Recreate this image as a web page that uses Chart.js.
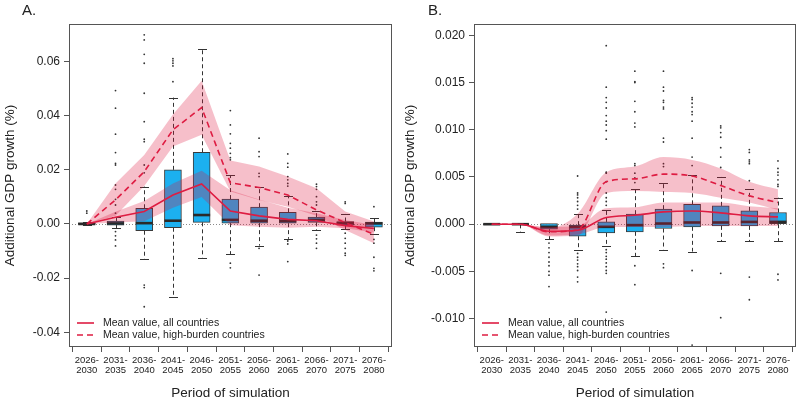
<!DOCTYPE html>
<html><head><meta charset="utf-8">
<script src="https://cdn.jsdelivr.net/npm/chart.js@4/dist/chart.umd.min.js"></script>
<style>
html,body{margin:0;padding:0;background:#fff;}
#wrap{position:relative;width:800px;height:402px;overflow:hidden;}
canvas{position:absolute;top:0;}
.lab{position:absolute;top:1px;font:15px "Liberation Sans",Arial,sans-serif;color:#222;}
</style></head><body>
<div id="wrap">
<canvas id="cA" width="400" height="402" style="left:0"></canvas>
<canvas id="cB" width="400" height="402" style="left:400px"></canvas>
<div class="lab" style="left:22px">A.</div>
<div class="lab" style="left:428px">B.</div>
</div>
<script>
// ---------- categories ----------
const periods = [["2026-","2030"],["2031-","2035"],["2036-","2040"],["2041-","2045"],["2046-","2050"],["2051-","2055"],["2056-","2060"],["2061-","2065"],["2066-","2070"],["2071-","2075"],["2076-","2080"]];
const legendLabels = ["Mean value, all countries","Mean value, high-burden countries"];
const xTitle = "Period of simulation";
const yTitle = "Additional GDP growth (%)";

// ---------- Panel A ----------
const A_q1  = [-0.0001,-0.0004,-0.0025,-0.0014,0.0006,0.0003,0.0003,0.0003,0.0006,-0.0004,-0.0012];
const A_med = [0.0000,0.0002,0.0003,0.0012,0.0033,0.0015,0.0012,0.0011,0.0015,0.0003,0.0002];
const A_q3  = [0.0004,0.0011,0.0058,0.0200,0.0265,0.0092,0.0062,0.0043,0.0025,0.0009,0.0007];
const A_wlo = [-0.0003,-0.0016,-0.0129,-0.0269,-0.0124,-0.0112,-0.0080,-0.0055,-0.0024,-0.0020,-0.0038];
const A_whi = [0.0006,0.0025,0.0138,0.0467,0.0645,0.0181,0.0136,0.0105,0.0049,0.0037,0.0021];
const A_out = [
  [0.0048,0.0040],
  [0.0493,0.0428,0.0332,0.0264,0.0224,0.0218,0.0144,0.0128,0.0091,0.0070,0.0040,-0.0028,-0.0044,-0.0059,-0.0081],
  [0.0699,0.0680,0.0627,0.0594,0.0483,0.0378,0.0313,0.0304,0.0218,0.0189,-0.0226,-0.0235,-0.0306],
  [0.0611,0.0603,0.0594,0.0584,0.0526],
  [],
  [0.0419,0.0366,0.0333,0.0298,0.0280,0.0261,0.0245,0.0237,-0.0145,-0.0162],
  [0.0317,0.0267,0.0249,0.0187,0.0175,-0.0090,-0.0189],
  [0.0259,0.0224,0.0210,0.0175,0.0163,0.0150,0.0140,-0.0063,-0.0074,-0.0139],
  [0.0147,0.0138,0.0128,0.0101,0.0082,0.0070,-0.0041,-0.0055,-0.0071,-0.0090],
  [0.0082,0.0076,-0.0034,-0.0053,-0.0071,-0.0090,-0.0108,-0.0116],
  [0.0064,-0.0057,-0.0071,-0.0123,-0.0164,-0.0173]
];
const A_meanAll  = [0, 0.0025, 0.0046, 0.0107, 0.0148, 0.0048, 0.0030, 0.0017, 0.0012, -0.0006, -0.0017];
const A_meanHigh = [0, 0.0089, 0.0193, 0.0348, 0.0430, 0.0152, 0.0135, 0.0107, 0.0052, 0.0005, -0.0038];
const A_allLo  = [0, 0.0005, 0.0010, 0.0060, 0.0100, -0.0005, -0.0010, -0.0014, -0.0010, -0.0016, -0.0032];
const A_allHi  = [0, 0.0045, 0.0085, 0.0150, 0.0197, 0.0125, 0.0090, 0.0060, 0.0040, 0.0015, -0.0004];
const A_highLo = [0, 0.0030, 0.0140, 0.0286, 0.0330, 0.0120, 0.0089, 0.0064, 0.0030, -0.0022, -0.0071];
const A_highHi = [0, 0.0150, 0.0255, 0.0405, 0.0529, 0.0235, 0.0212, 0.0175, 0.0132, 0.0046, 0.0009];
const A_yTicks = [-0.04,-0.02,0.00,0.02,0.04,0.06];

// ---------- Panel B ----------
const B_q1  = [-0.00002,-0.00002,-0.00053,-0.00127,-0.00092,-0.00081,-0.00046,-0.00028,-0.00018,-0.00018,0.00000];
const B_med = [0,0,-0.00028,-0.0003,-0.00028,-0.0001,0.00007,0.00018,0.00018,0.00024,0.00024];
const B_q3  = [0.00003,0.00004,0.00007,-0.0001,0.00024,0.00106,0.00159,0.0021,0.00194,0.00141,0.00124];
const B_wlo = [-0.00002,-0.0008,-0.0016,-0.0027,-0.0023,-0.0034,-0.0027,-0.0029,-0.0018,-0.0018,-0.0018];
const B_whi = [0.00003,0.00004,0.00007,0.0011,0.0015,0.0037,0.0044,0.0052,0.0050,0.0037,0.0028];
const B_out = [
  [],
  [],
  [-0.0020,-0.0025,-0.0030,-0.0035,-0.0040,-0.0044,-0.0050,-0.0054,-0.0066],
  [0.0051,0.0033,0.0031,0.0028,0.0024,0.0020,0.0016,-0.0031,-0.0035,-0.0038,-0.0042,-0.0045,-0.0049,-0.0056,-0.0061],
  [0.0189,0.0145,0.0134,0.0129,0.0123,0.0115,0.0109,0.0105,0.0099,0.0090,0.0055,0.0054,0.0045,0.0033,0.0028,0.0024,0.0020,-0.0027,-0.0030,-0.0034,-0.0037,-0.0041,-0.0045,-0.0049,-0.0052,-0.0093],
  [0.0162,0.0151,0.0150,0.0130,0.0119,0.0107,0.0103,0.0064,0.0062,0.0054,0.0049,0.0044,-0.0044,-0.0064],
  [0.0162,0.0145,0.0141,0.0131,0.0129,0.0124,0.0122,0.0091,0.0087,0.0064,0.0061,-0.0042,-0.0046],
  [0.0134,0.0132,0.0128,0.0124,0.0119,0.0116,0.0109,0.0091,0.0071,0.0062,-0.0049,-0.0128],
  [0.0104,0.0102,0.0097,0.0092,0.0081,0.0071,0.0060,-0.0052,-0.0099],
  [0.0079,0.0076,0.0068,0.0066,0.0064,0.0046,-0.0056,-0.0080],
  [0.0067,0.0059,0.0055,0.0052,0.0047,0.0042,0.0040,-0.0053,-0.0059]
];
const B_meanAll  = [0, 0, -0.00074, -0.00064, 0.00071, 0.00095, 0.0013, 0.0014, 0.0012, 0.00088, 0.00077];
const B_meanHigh = [0, 0, -0.0008, -0.0006, 0.0045, 0.0048, 0.0053, 0.0051, 0.0041, 0.0030, 0.0023];
const B_allLo  = [0, 0, -0.0012, -0.0011, -0.0003, -0.0003, -0.0003, -0.0002, -0.0002, -0.0002, -0.0002];
const B_allHi  = [0, 0, -0.0003, -0.0002, 0.0017, 0.0018, 0.0023, 0.0023, 0.0023, 0.0019, 0.0017];
const B_highLo = [0, 0, -0.0013, -0.0012, 0.0033, 0.0035, 0.0034, 0.0033, 0.0028, 0.0023, 0.0015];
const B_highHi = [0, 0, -0.0004, 0.0011, 0.0055, 0.0061, 0.0071, 0.0068, 0.0059, 0.0045, 0.0037];
const B_yTicks = [-0.010,-0.005,0.000,0.005,0.010,0.015,0.020];

// ---------- styling ----------
const FONT = "'Liberation Sans', Arial, sans-serif";
const CRIMSON = 'rgb(222,28,66)';
const BAND = 'rgba(220,20,60,0.27)';
const BOXFILL = '#1cb0f0';
const INK = '#222';

const pts = arr => arr.map((v,i)=>({x:i+1,y:v}));

const extras = {
  id:'boxExtras',
  beforeDatasetsDraw(chart){
    const {ctx, chartArea:a, scales:{y}} = chart;
    const y0 = Math.round(y.getPixelForValue(0)) + 0.5;
    ctx.save(); ctx.strokeStyle='#8a8a8a'; ctx.lineWidth=1; ctx.setLineDash([1,2]);
    ctx.beginPath(); ctx.moveTo(a.left,y0); ctx.lineTo(a.right,y0); ctx.stroke(); ctx.restore();
  },
  beforeDatasetDraw(chart,args){
    const ds = chart.data.datasets[args.index];
    if (!ds.stats) return;
    const s = ds.stats, {ctx, scales:{x,y}} = chart;
    ctx.save(); ctx.strokeStyle='#333'; ctx.lineWidth=1;
    for (let i=0;i<s.q1.length;i++){
      const px = Math.round(x.getPixelForValue(i+1))+0.5;
      const segs = [[s.q3[i], s.whi[i]],[s.q1[i], s.wlo[i]]];
      segs.forEach(([from,to])=>{
        if (Math.abs(to-from) < 1e-12) return;
        const y1 = y.getPixelForValue(from), y2 = y.getPixelForValue(to);
        ctx.setLineDash([4,3]);
        ctx.beginPath(); ctx.moveTo(px,y1); ctx.lineTo(px,y2); ctx.stroke();
        ctx.setLineDash([]);
        const yc = Math.round(y2)+0.5;
        ctx.beginPath(); ctx.moveTo(px-4.5,yc); ctx.lineTo(px+4.5,yc); ctx.stroke();
      });
    }
    ctx.restore();
  },
  afterDatasetDraw(chart,args){
    const ds = chart.data.datasets[args.index];
    if (!ds.stats) return;
    const s = ds.stats, {ctx, scales:{x,y}} = chart;
    ctx.save(); ctx.strokeStyle='#2a2a2a'; ctx.lineWidth=2.6;
    for (let i=0;i<s.med.length;i++){
      const px = x.getPixelForValue(i+1);
      const py = y.getPixelForValue(s.med[i]);
      ctx.beginPath(); ctx.moveTo(px-8.5,py); ctx.lineTo(px+8.5,py); ctx.stroke();
    }
    ctx.restore();
  },
  afterDraw(chart){
    const {ctx, chartArea:a} = chart;
    ctx.save();
    ctx.strokeStyle='#555'; ctx.lineWidth=1;
    ctx.strokeRect(a.left+0.5, a.top+0.5, a.right-a.left-1, a.bottom-a.top-1);
    // legend
    const rows = [a.bottom-24, a.bottom-12];
    ctx.lineWidth=1.6; ctx.strokeStyle=CRIMSON;
    ctx.beginPath(); ctx.moveTo(a.left+8,rows[0]); ctx.lineTo(a.left+25,rows[0]); ctx.stroke();
    ctx.setLineDash([6,4]);
    ctx.beginPath(); ctx.moveTo(a.left+8,rows[1]); ctx.lineTo(a.left+26,rows[1]); ctx.stroke();
    ctx.setLineDash([]);
    ctx.fillStyle=INK; ctx.font="10.5px "+FONT; ctx.textBaseline='middle'; ctx.textAlign='left';
    ctx.fillText(legendLabels[0], a.left+34, rows[0]);
    ctx.fillText(legendLabels[1], a.left+34, rows[1]);
    ctx.restore();
  }
};

function panel(id, P){
  const bandDs = (data, fill) => ({type:'line', data:pts(data), borderColor:'rgba(0,0,0,0)', borderWidth:1, pointRadius:0,
      fill: fill, backgroundColor: BAND, order:3, tension:P.tension, cubicInterpolationMode: P.mono?'monotone':'default'});
  const outPts = [];
  P.out.forEach((arr,i)=>arr.forEach(v=>outPts.push({x:i+1,y:v})));
  const datasets = [
    {type:'line', label:'meanAll', data:pts(P.meanAll), borderColor:CRIMSON, borderWidth:1.6, pointRadius:0, fill:false, order:1, tension:P.tension, cubicInterpolationMode: P.mono?'monotone':'default'},
    {type:'line', label:'meanHigh', data:pts(P.meanHigh), borderColor:CRIMSON, borderWidth:1.6, borderDash:[6,4], pointRadius:0, fill:false, order:1, tension:P.tension, cubicInterpolationMode: P.mono?'monotone':'default'},
    bandDs(P.allHi,'+1'), bandDs(P.allLo,false),
    bandDs(P.highHi,'+1'), bandDs(P.highLo,false),
    {type:'line', label:'outliers', data:outPts, showLine:false, pointRadius:0.9, pointBorderWidth:0, pointBackgroundColor:'#333', borderColor:'#333', order:6},
    {type:'bar', label:'boxes', data:P.q1.map((v,i)=>({x:i+1,y:[v,P.q3[i]]})), backgroundColor:BOXFILL, borderColor:'#3a3a3a', borderWidth:1, borderSkipped:false, barThickness:17, order:8,
      stats:{q1:P.q1,q3:P.q3,med:P.med,wlo:P.wlo,whi:P.whi}}
  ];
  return new Chart(document.getElementById(id), {
    type:'bar',
    data:{datasets},
    plugins:[extras],
    options:{
      responsive:false, animation:false, devicePixelRatio:1,
      layout:{padding:{left:0,right:P.padR,top:24,bottom:0}},
      plugins:{legend:{display:false}, tooltip:{enabled:false}},
      scales:{
        x:{type:'linear', min:0.38, max:11.63, offset:false,
           afterBuildTicks: s => { s.ticks = periods.map((p,i)=>({value:i+1})); },
           afterFit: s => { s.height = 55; },
           grid:{display:true, drawOnChartArea:false, drawTicks:true, tickLength:5, color:'#555'},
           border:{display:false},
           ticks:{autoSkip:false, maxRotation:0, minRotation:0, padding:3, color:INK, font:{family:FONT,size:9.5,lineHeight:1.08},
                  callback:(v)=>periods[Math.round(v)-1]},
           title:{display:true, text:xTitle, color:INK, font:{family:FONT,size:13.5}, padding:{top:0,bottom:1}}
        },
        y:{type:'linear', min:P.yMin, max:P.yMax,
           afterBuildTicks: s => { s.ticks = P.yTicks.map(v=>({value:v})); },
           afterFit: s => { s.width = P.axisW; },
           grid:{display:true, drawOnChartArea:false, drawTicks:true, tickLength:5, color:'#555'},
           border:{display:false},
           ticks:{padding:4, color:INK, font:{family:FONT,size:12}, callback:(v)=>Number(v).toFixed(P.dec)},
           title:{display:true, text:yTitle, color:INK, font:{family:FONT,size:13.5}, padding:{top:2,bottom:0}}
        }
      }
    }
  });
}

panel('cA', {q1:A_q1,med:A_med,q3:A_q3,wlo:A_wlo,whi:A_whi,out:A_out,meanAll:A_meanAll,meanHigh:A_meanHigh,
  allLo:A_allLo,allHi:A_allHi,highLo:A_highLo,highHi:A_highHi,yTicks:A_yTicks,yMin:-0.04547,yMax:0.0739,dec:2,axisW:69,padR:8,tension:0,mono:false});
panel('cB', {q1:B_q1,med:B_med,q3:B_q3,wlo:B_wlo,whi:B_whi,out:B_out,meanAll:B_meanAll,meanHigh:B_meanHigh,
  allLo:B_allLo,allHi:B_allHi,highLo:B_highLo,highHi:B_highHi,yTicks:B_yTicks,yMin:-0.0130,yMax:0.02119,dec:3,axisW:74,padR:2,tension:0.4,mono:true});
</script>
</body></html>
